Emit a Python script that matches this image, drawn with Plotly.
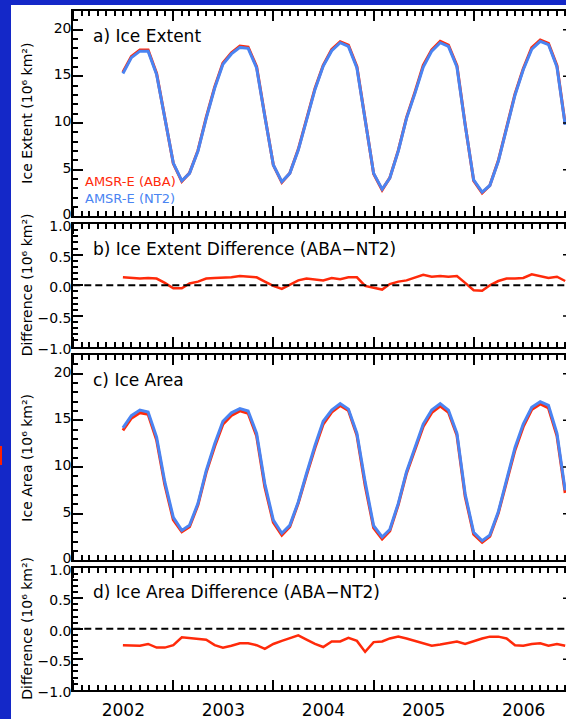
import plotly.graph_objects as go
import pandas as pd

# ---------------- data (10^6 km^2), monthly from Jul 2002 ----------------
start_month = "2002-07-01"
n_months = 54
years = [2002, 2003, 2004, 2005, 2006]

extent_nt2 = [15.3, 17.0, 17.7, 17.7, 15.2, 10.5, 5.7, 3.8, 4.6, 7.0, 10.5, 13.75,
              16.3, 17.4, 18.1, 18.0, 15.9, 10.7, 5.5, 3.7, 4.6, 7.1, 10.4, 13.6,
              16.1, 17.75, 18.6, 18.2, 15.9, 10.2, 4.6, 2.9, 4.1, 7.0, 10.5, 13.2,
              16.0, 17.7, 18.6, 18.2, 16.0, 9.8, 3.9, 2.6, 3.3, 5.9, 9.5, 13.0,
              15.7, 17.9, 18.75, 18.4, 16.0, 9.8]
extent_aba = [15.43, 17.12, 17.81, 17.82, 15.31, 10.54, 5.65, 3.75, 4.63, 7.06, 10.61, 13.87,
              16.42, 17.53, 18.25, 18.14, 16.03, 10.76, 5.49, 3.64, 4.61, 7.18, 10.51, 13.70,
              16.18, 17.87, 18.70, 18.33, 16.03, 10.19, 4.56, 2.83, 4.12, 7.06, 10.58, 13.33,
              16.17, 17.84, 18.75, 18.34, 16.15, 9.84, 3.82, 2.51, 3.30, 5.97, 9.61, 13.11,
              15.82, 18.08, 18.90, 18.52, 16.14, 9.87]

area_nt2 = [14.2, 15.5, 16.1, 15.9, 13.2, 8.4, 4.6, 3.2, 3.75, 6.1, 9.6, 12.5,
            14.9, 15.8, 16.25, 16.0, 13.6, 8.2, 4.3, 2.9, 3.75, 6.25, 9.3, 12.3,
            14.9, 16.1, 16.8, 16.2, 13.6, 8.4, 3.7, 2.5, 3.3, 6.1, 9.5, 12.1,
            14.6, 16.1, 16.8, 16.1, 13.6, 7.1, 3.0, 2.1, 2.7, 5.2, 8.6, 12.1,
            14.6, 16.4, 17.0, 16.6, 13.6, 7.5]
area_aba = [13.93, 15.23, 15.82, 15.65, 12.89, 8.09, 4.33, 3.06, 3.60, 5.94, 9.42, 12.23,
            14.59, 15.52, 16.01, 15.76, 13.33, 7.87, 4.05, 2.70, 3.59, 6.14, 9.12, 12.05,
            14.60, 15.89, 16.59, 16.05, 13.40, 8.02, 3.48, 2.29, 3.14, 5.97, 9.34, 11.90,
            14.35, 15.82, 16.54, 15.86, 13.39, 6.85, 2.80, 1.94, 2.57, 5.07, 8.44, 11.83,
            14.32, 16.15, 16.76, 16.32, 13.35, 7.22]

extent_diff = [a - b for a, b in zip(extent_aba, extent_nt2)]
area_diff = [a - b for a, b in zip(area_aba, area_nt2)]

x = pd.date_range(start_month, periods=n_months, freq="MS")

RED = "#ff2a0a"
BLUE = "#4a84f2"
BG_BLUE = "#1428c8"
FONT = "DejaVu Sans"

W, H = 566, 719
def py(px):
    return 1 - px / H

x_left = 73.3 / W
doms = {
    1: [py(216.3), py(11.0)],
    2: [py(346.6), py(224.0)],
    3: [py(560.3), py(355.0)],
    4: [py(689.7), py(567.7)],
}

fig = go.Figure()
# panel a
fig.add_trace(go.Scatter(x=x, y=extent_aba, mode="lines", line=dict(color=RED, width=3),
                         xaxis="x", yaxis="y", name="AMSR-E (ABA)"))
fig.add_trace(go.Scatter(x=x, y=extent_nt2, mode="lines", line=dict(color=BLUE, width=3),
                         xaxis="x", yaxis="y", name="AMSR-E (NT2)"))
# panel b
fig.add_trace(go.Scatter(x=x, y=extent_diff, mode="lines", line=dict(color=RED, width=2.5),
                         xaxis="x2", yaxis="y2", name="Extent diff"))
# panel c
fig.add_trace(go.Scatter(x=x, y=area_aba, mode="lines", line=dict(color=RED, width=3),
                         xaxis="x3", yaxis="y3", name="Area ABA"))
fig.add_trace(go.Scatter(x=x, y=area_nt2, mode="lines", line=dict(color=BLUE, width=3),
                         xaxis="x3", yaxis="y3", name="Area NT2"))
# panel d
fig.add_trace(go.Scatter(x=x, y=area_diff, mode="lines", line=dict(color=RED, width=2.5),
                         xaxis="x4", yaxis="y4", name="Area diff"))

xrange = ["2002-01-01", "2006-12-04"]
tickfont = dict(family=FONT, size=14, color="black")

def xaxis_cfg(i, labels):
    d = dict(domain=[x_left, 1], range=xrange, type="date",
             anchor="y" if i == 1 else f"y{i}",
             showline=True, linecolor="black", linewidth=2, mirror="ticks",
             ticks="inside", ticklen=10, tickwidth=1.5, tickcolor="black",
             tick0="2002-01-01", dtick="M12", tickformat="%Y",
             ticklabelmode="period", showgrid=False, zeroline=False,
             minor=dict(dtick="M1", ticks="inside", ticklen=5, tickwidth=1.5,
                        tickcolor="black", showgrid=False),
             showticklabels=labels, tickfont=dict(family=FONT, size=17, color="black"),
             ticklabelstandoff=4, automargin=False)
    if i > 1:
        d["matches"] = "x"
    return d

def yaxis_cfg(i, kind):
    d = dict(domain=doms[i], anchor="x" if i == 1 else f"x{i}",
             showline=True, linecolor="black", linewidth=2, mirror=False,
             ticks="inside", ticklen=10, tickwidth=1.5, tickcolor="black",
             showgrid=False, zeroline=False, tickfont=tickfont, automargin=False,
             ticklabelstandoff=-3)
    if kind == "abs":
        d.update(range=[0, 22], tickvals=[0, 5, 10, 15, 20], ticklabelshift=-2,
                 minor=dict(dtick=1, tick0=0, ticks="inside", ticklen=5, tickwidth=1.5,
                            tickcolor="black", showgrid=False))
    else:
        d.update(range=[-1, 1], tickvals=[-1, -0.5, 0, 0.5, 1], tickformat=".1f",
                 ticklabelshift=2,
                 minor=dict(dtick=0.1, tick0=0, ticks="inside", ticklen=5, tickwidth=1.5,
                            tickcolor="black", showgrid=False))
    return d

layout = dict(width=W, height=H, autosize=False,
              margin=dict(l=0, r=0, t=0, b=0, pad=0),
              paper_bgcolor=BG_BLUE, plot_bgcolor="white",
              showlegend=False, font=dict(family=FONT, color="black"))
for i in range(1, 5):
    sfx = "" if i == 1 else str(i)
    layout["xaxis" + sfx] = xaxis_cfg(i, i == 4)
    layout["yaxis" + sfx] = yaxis_cfg(i, "abs" if i in (1, 3) else "diff")
fig.update_layout(**layout)

shapes = [
    # white page area over the blue border
    dict(type="rect", xref="paper", yref="paper", x0=11 / W, x1=1, y0=0, y1=py(5),
         fillcolor="white", line=dict(width=0), layer="below"),
    # small red mark in left border
    dict(type="rect", xref="paper", yref="paper", x0=0, x1=2 / W, y0=py(465), y1=py(446),
         fillcolor="#ff2000", line=dict(width=0), layer="below"),
]
# zero reference lines
for ya in ("y2", "y4"):
    shapes.append(dict(type="line", xref="paper", yref=ya, x0=x_left, x1=1, y0=0, y1=0,
                       line=dict(color="black", width=2, dash="7px,4px")))
# right-side major ticks (frame itself is just outside the picture)
for ya, vals in (("y", [5, 10, 15, 20]), ("y2", [-0.5, 0.5]),
                 ("y3", [5, 10, 15, 20]), ("y4", [-0.5, 0.5])):
    for v in vals:
        shapes.append(dict(type="line", xref="paper", yref=ya, x0=563 / W, x1=1, y0=v, y1=v,
                           line=dict(color="black", width=1.5)))
fig.update_layout(shapes=shapes)

ann = []
panel_titles = [("a) Ice Extent", 36.3), ("b) Ice Extent Difference (ABA\u2212NT2)", 248.7),
                ("c) Ice Area", 380.3), ("d) Ice Area Difference (ABA\u2212NT2)", 592.0)]
for t, yc in panel_titles:
    ann.append(dict(text=t, xref="paper", yref="paper", x=91 / W, y=py(yc),
                    xanchor="left", yanchor="middle", showarrow=False,
                    font=dict(family=FONT, size=17, color="black")))
ytitles = ["Ice Extent (10\u2076 km\u00b2)", "Difference (10\u2076 km\u00b2)",
           "Ice Area (10\u2076 km\u00b2)", "Difference (10\u2076 km\u00b2)"]
for i, t in enumerate(ytitles, start=1):
    yc = (doms[i][0] + doms[i][1]) / 2
    ann.append(dict(text=t, xref="paper", yref="paper", x=27 / W, y=yc, textangle=-90,
                    xanchor="center", yanchor="middle", showarrow=False,
                    font=dict(family=FONT, size=14, color="black")))
ann.append(dict(text="AMSR-E (ABA)", xref="paper", yref="paper", x=83 / W, y=py(181.3),
                xanchor="left", yanchor="middle", showarrow=False,
                font=dict(family=FONT, size=13, color=RED)))
ann.append(dict(text="AMSR-E (NT2)", xref="paper", yref="paper", x=83 / W, y=py(198),
                xanchor="left", yanchor="middle", showarrow=False,
                font=dict(family=FONT, size=13, color=BLUE)))
fig.update_layout(annotations=ann)

fig.write_html("out.html")
